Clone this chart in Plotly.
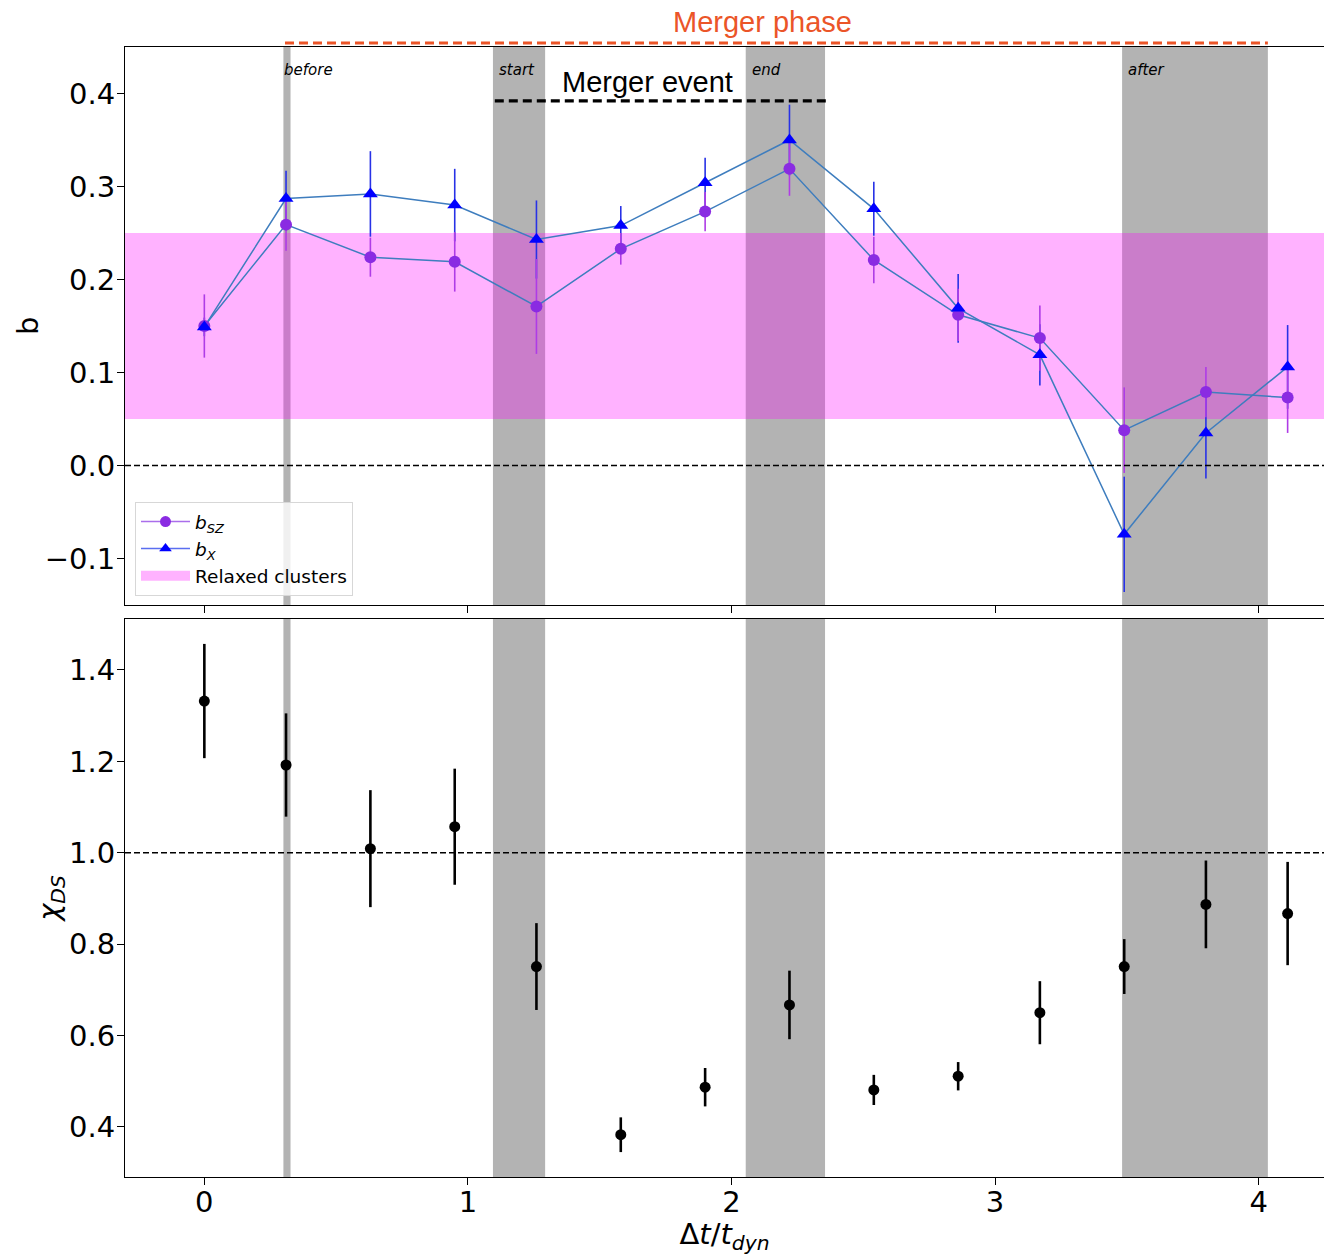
import plotly.graph_objects as go
from plotly.subplots import make_subplots

# Time since merger in units of the dynamical time
t_dyn = [0.0, 0.31, 0.63, 0.95, 1.26, 1.58, 1.90, 2.22, 2.54, 2.86, 3.17, 3.49, 3.80, 4.11]

# Hydrostatic mass bias from SZ and X-ray profiles
b_sz = [0.150, 0.259, 0.224, 0.219, 0.171, 0.233, 0.273, 0.319, 0.221, 0.162, 0.137, 0.038, 0.079, 0.073]
b_sz_err = [0.034, 0.028, 0.021, 0.032, 0.051, 0.017, 0.021, 0.029, 0.025, 0.028, 0.035, 0.046, 0.027, 0.038]
b_x = [0.149, 0.287, 0.292, 0.280, 0.243, 0.258, 0.304, 0.350, 0.276, 0.169, 0.119, -0.074, 0.035, 0.106]
b_x_err = [0.010, 0.030, 0.046, 0.039, 0.042, 0.021, 0.027, 0.038, 0.029, 0.037, 0.033, 0.062, 0.049, 0.045]

# Dynamical-state indicator
chi_ds = [1.332, 1.192, 1.009, 1.057, 0.751, 0.383, 0.487, 0.667, 0.481, 0.511, 0.650, 0.751, 0.887, 0.867]
chi_ds_err = [0.125, 0.113, 0.128, 0.127, 0.095, 0.038, 0.042, 0.075, 0.033, 0.031, 0.069, 0.060, 0.096, 0.113]

# Relaxed-cluster range of b
relaxed_range = [0.05, 0.25]

# Snapshot windows: before, start, end, after
phase_names = ["before", "start", "end", "after"]
phase_bands = [[0.300, 0.327], [1.095, 1.293], [2.054, 2.355], [3.482, 4.035]]
merger_phase = [0.306, 4.035]
merger_event = [1.102, 2.360]

X_RANGE = [-0.301, 4.248]
Y1_RANGE = [-0.150, 0.450]
Y2_RANGE = [0.2905, 1.5115]

W, H = 1324, 1255
M_T, M_B, M_L = 47, 78, 125
plot_h = H - M_T - M_B
plot_w = W - M_L


def py(pix):
    """Pixel row -> paper y."""
    return (H - M_B - pix) / plot_h


def px(pix):
    """Pixel column -> paper x."""
    return (pix - M_L) / plot_w


fig = make_subplots(rows=2, cols=1, shared_xaxes=False, vertical_spacing=0.0)

GRAY = "rgb(179,179,179)"
for lo, hi in phase_bands:
    for yr in ["y domain", "y2 domain"]:
        fig.add_shape(type="rect", xref="x" if yr == "y domain" else "x2", yref=yr,
                      x0=lo, x1=hi, y0=0, y1=1, fillcolor=GRAY, line_width=0, layer="below")

# relaxed band (drawn as a trace so it sits over the gray windows)
fig.add_trace(go.Scatter(
    x=[X_RANGE[0], X_RANGE[1], X_RANGE[1], X_RANGE[0], X_RANGE[0]],
    y=[relaxed_range[0], relaxed_range[0], relaxed_range[1], relaxed_range[1], relaxed_range[0]],
    fill="toself", fillcolor="rgba(255,0,255,0.3)", mode="lines", line=dict(width=0),
    showlegend=False, hoverinfo="skip"), row=1, col=1)

LINE_C = "rgb(62,125,190)"
for ys in [b_sz, b_x]:
    fig.add_trace(go.Scatter(x=t_dyn, y=ys, mode="lines", line=dict(color=LINE_C, width=1.5),
                             showlegend=False), row=1, col=1)

fig.add_trace(go.Scatter(x=t_dyn, y=b_x, mode="markers", marker=dict(size=1, opacity=0),
                         error_y=dict(type="data", array=b_x_err, color="rgb(40,50,230)",
                                      thickness=1.6, width=0),
                         showlegend=False), row=1, col=1)
fig.add_trace(go.Scatter(x=t_dyn, y=b_sz, mode="markers", marker=dict(size=1, opacity=0),
                         error_y=dict(type="data", array=b_sz_err, color="rgb(175,60,230)",
                                      thickness=1.6, width=0),
                         showlegend=False), row=1, col=1)

fig.add_trace(go.Scatter(x=t_dyn, y=b_sz, mode="markers",
                         marker=dict(symbol="circle", size=12, color="rgb(138,43,226)"),
                         showlegend=False), row=1, col=1)
fig.add_trace(go.Scatter(x=t_dyn, y=b_x, mode="markers",
                         marker=dict(symbol="triangle-up", size=13, color="rgb(0,0,255)"),
                         showlegend=False), row=1, col=1)

# legend entries
fig.add_trace(go.Scatter(x=[None], y=[None], mode="lines+markers",
                         line=dict(color="rgb(170,110,235)", width=1.5),
                         marker=dict(symbol="circle", size=11, color="rgb(138,43,226)"),
                         name="<i>b</i><sub><i>SZ</i></sub>", legendrank=1), row=1, col=1)
fig.add_trace(go.Scatter(x=[None], y=[None], mode="lines+markers",
                         line=dict(color="rgb(90,110,240)", width=1.5),
                         marker=dict(symbol="triangle-up", size=11, color="rgb(0,0,255)"),
                         name="<i>b</i><sub><i>X</i></sub>", legendrank=2), row=1, col=1)
fig.add_trace(go.Scatter(x=[None], y=[None], mode="lines",
                         line=dict(color="rgba(255,0,255,0.3)", width=14),
                         name="Relaxed clusters", legendrank=3), row=1, col=1)

fig.add_trace(go.Scatter(x=t_dyn, y=chi_ds, mode="markers",
                         marker=dict(symbol="circle", size=11, color="black"),
                         error_y=dict(type="data", array=chi_ds_err, color="black",
                                      thickness=2.6, width=0),
                         showlegend=False), row=2, col=1)

# reference lines
fig.add_shape(type="line", xref="x domain", yref="y", x0=0, x1=1, y0=0, y1=0,
              line=dict(color="black", width=1.5, dash="6px,3px"))
fig.add_shape(type="line", xref="x2 domain", yref="y2", x0=0, x1=1, y0=1, y1=1,
              line=dict(color="black", width=1.5, dash="6px,3px"))

# merger phase / event markers
fig.add_shape(type="line", xref="x", yref="paper", x0=merger_phase[0], x1=merger_phase[1],
              y0=py(43), y1=py(43), line=dict(color="rgb(235,85,40)", width=3.2, dash="9px,5px"))
fig.add_shape(type="line", xref="x", yref="y", x0=merger_event[0], x1=merger_event[1],
              y0=0.392, y1=0.392, line=dict(color="black", width=3.2, dash="9px,5px"))

fig.add_annotation(x=2.116, y=py(22), xref="x", yref="paper", text="Merger phase",
                   yanchor="middle", showarrow=False,
                   font=dict(family="Liberation Sans", size=29, color="rgb(235,85,40)"))
fig.add_annotation(x=1.68, y=py(82), xref="x", yref="paper", text="Merger event",
                   yanchor="middle", showarrow=False,
                   font=dict(family="Liberation Sans", size=29, color="black"))

for name, (lo, hi) in zip(phase_names, phase_bands):
    fig.add_annotation(x=lo, y=py(70), xref="x", yref="paper", text="<i>%s</i>" % name,
                       xanchor="left", yanchor="middle", xshift=-1 if name == "before" else 4,
                       showarrow=False, font=dict(family="DejaVu Sans", size=15, color="black"))

AX_FONT = dict(family="DejaVu Sans", size=29, color="black")

# y label of the upper panel
fig.add_annotation(x=px(28), y=0.5, xref="paper", yref="y domain", text="b", textangle=-90,
                   xanchor="center", yanchor="middle", showarrow=False, font=AX_FONT)

common = dict(showgrid=False, zeroline=False, showline=True, linecolor="black", linewidth=1.2,
              ticks="outside", ticklen=7, tickwidth=1.2, tickcolor="black", tickfont=AX_FONT)

fig.update_xaxes(range=X_RANGE, tickvals=[0, 1, 2, 3, 4], mirror=True, **common)
fig.update_xaxes(showticklabels=False, row=1, col=1)
fig.update_xaxes(ticktext=["0", "1", "2", "3", "4"], row=2, col=1, ticklabelstandoff=-8,
                 title=dict(text="Δ<i>t</i>/<i>t</i><sub><i>dyn</i></sub>", font=AX_FONT, standoff=5))
fig.update_yaxes(**common)
fig.update_yaxes(range=Y1_RANGE, tickvals=[-0.1, 0.0, 0.1, 0.2, 0.3, 0.4], tickformat=".1f",
                 domain=[py(605), 1.0], row=1, col=1, ticklabelstandoff=-4)
fig.update_yaxes(range=Y2_RANGE, tickvals=[0.4, 0.6, 0.8, 1.0, 1.2, 1.4], tickformat=".1f",
                 domain=[0.0, py(619)], row=2, col=1, ticklabelstandoff=-4,
                 title=dict(text="<i>χ</i><sub><i>DS</i></sub>", font=AX_FONT, standoff=0))

fig.update_layout(
    width=W, height=H, margin=dict(l=M_L, r=0, t=M_T, b=M_B),
    paper_bgcolor="white", plot_bgcolor="white",
    font=dict(family="DejaVu Sans", color="black"),
    legend=dict(x=px(135), y=py(596), xanchor="left", yanchor="bottom",
                bgcolor="rgba(255,255,255,0.8)", bordercolor="rgb(215,215,215)", borderwidth=1,
                font=dict(family="DejaVu Sans", size=18.5), itemwidth=49, tracegroupgap=0),
    showlegend=True,
)

fig.write_html("out.html")
